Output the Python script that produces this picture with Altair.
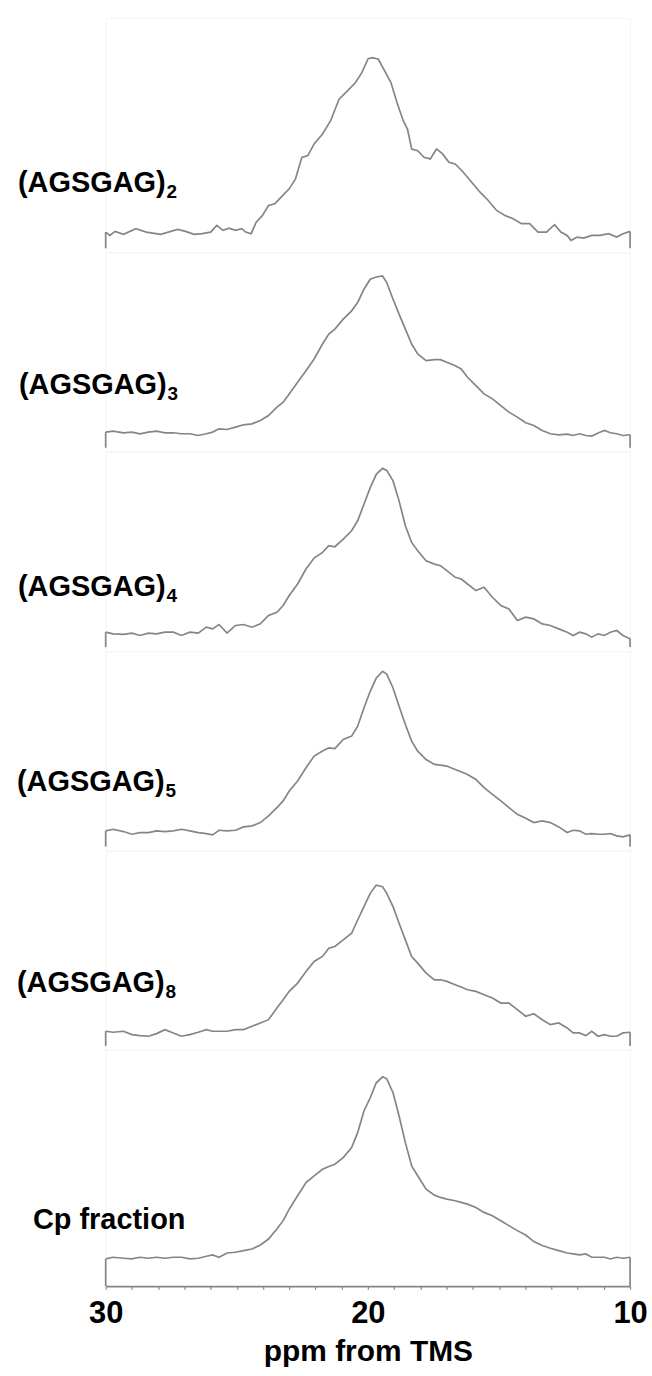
import altair as alt
import pandas as pd

# ---- 13C CP/MAS spectra, Ala Cβ region (intensity in arbitrary units) ----

# (AGSGAG)2 was sampled on its own ppm grid
ppm_agsgag2 = [30.00, 29.84, 29.64, 29.32, 28.85, 28.45, 27.90, 27.26, 26.95, 26.63,
               26.32, 26.00, 25.76, 25.53, 25.29, 25.05, 24.81, 24.66, 24.45, 24.26,
               24.02, 23.79, 23.55, 23.31, 23.00, 22.76, 22.52, 22.29, 22.05, 21.73,
               21.42, 21.10, 20.78, 20.47, 20.23, 19.99, 19.83, 19.60, 19.36, 19.12,
               18.89, 18.65, 18.49, 18.33, 18.10, 17.86, 17.62, 17.38, 17.15, 16.91,
               16.67, 16.36, 16.04, 15.72, 15.41, 15.09, 14.77, 14.46, 14.14, 13.83,
               13.51, 13.19, 12.88, 12.64, 12.40, 12.25, 12.01, 11.77, 11.46, 11.14,
               10.82, 10.51, 10.27, 10.00]
int_agsgag2 = [3.3, 0, 4, 1, 6.7, 3.3, 1, 6, 4, 1,
               1.7, 3.3, 10, 5, 7.3, 5, 6.7, 3.3, 1.7, 13.3,
               20, 30, 31.7, 38.3, 46.7, 56.7, 78.3, 80, 91.7, 101.7,
               115, 136.7, 145, 153.3, 163.3, 177.3, 178.3, 176.7, 165, 153.3,
               133.3, 115, 106.7, 86.7, 85, 78.3, 76.7, 86.7, 81.7, 73.3,
               71.7, 63.3, 53.3, 43.3, 35, 25, 20, 16.7, 11.7, 11.7,
               3.3, 3.3, 10.7, 3.3, 0, -5, -1.7, -2.7, 0, 0,
               1.7, -1.7, 1.7, 4]

# shared ppm grid for the remaining spectra
ppm_grid = [30.00, 29.72, 29.32, 29.00, 28.69, 28.37, 28.06, 27.74, 27.42, 27.11,
            26.79, 26.47, 26.16, 25.92, 25.68, 25.37, 25.05, 24.74, 24.42, 24.10,
            23.79, 23.47, 23.23, 23.00, 22.68, 22.36, 22.05, 21.73, 21.49, 21.26,
            20.94, 20.62, 20.39, 20.15, 19.91, 19.68, 19.44, 19.28, 19.04, 18.81,
            18.57, 18.33, 18.10, 17.78, 17.46, 17.23, 16.99, 16.67, 16.44, 16.20,
            15.88, 15.57, 15.25, 14.93, 14.62, 14.30, 13.98, 13.67, 13.35, 13.04,
            12.72, 12.40, 12.17, 11.93, 11.69, 11.46, 11.22, 10.98, 10.75, 10.51,
            10.27, 10.00]

int_agsgag3 = [1.7, 2.7, 1, 1.7, 0, 1.7, 2.7, 1, 1, 0,
               0, -1.7, 0, 1.7, 5, 4.3, 6.7, 9, 10, 13.3,
               18.3, 26.7, 31.7, 40, 51.7, 63.3, 75, 90, 100, 105,
               115, 123.3, 131.7, 145, 155, 157.3, 158.3, 151.7, 135, 120,
               105, 90, 80, 73.3, 74.3, 74.3, 71.7, 68.3, 65, 56.7,
               48.3, 40, 35, 28.3, 21.7, 16.7, 11, 8.3, 3.3, 0,
               -1, -0.3, -1.7, 0, -1.7, -2.3, 0.7, 3.3, 1, 0,
               -1.7, -1]

int_agsgag4 = [1, -0.7, -1.3, 0, -2.3, 0, -0.7, 1, 1, -2.3,
               1, 0, 6, 4.3, 8.7, 0, 7.7, 8.7, 6, 9.3,
               17.7, 21, 27.7, 37.7, 49.3, 64.3, 75.3, 81, 87.7, 86.7,
               94.3, 102.7, 112.7, 129.3, 146, 159.3, 165.3, 163.3, 152.7, 132.7,
               107.7, 91, 82.7, 72.7, 69.3, 67.7, 62.7, 56, 54.3, 49.3,
               42.7, 46, 36, 27.7, 24.3, 12.7, 16, 14.3, 9.3, 7.7,
               4.3, 1, -2.3, 1, -0.7, -4, -0.7, -2.3, 1, 2.7,
               -2.3, -5.7]

int_agsgag5 = [1.7, 3.3, 1, -1.7, 0, 0, 1.7, 1, 1.7, 3.3,
               1.7, 0, -1, -2.3, 2.3, 1.7, 2.3, 5.7, 6.7, 10,
               16.7, 25, 31.7, 41.7, 51.7, 65, 76.7, 81.7, 85, 84.3,
               93.3, 96.7, 106.7, 125, 141.7, 155, 161.7, 159, 145, 126.7,
               108.3, 91.7, 81.7, 73.3, 68.3, 67.7, 66.7, 63.3, 61, 58.3,
               53.3, 45, 38.3, 31.7, 25, 18.3, 14.3, 10, 11.7, 10,
               5.7, 0, 2.3, 1.7, -1.7, -1, -1.7, -1.7, -1, -3.3,
               -4.3, -2.3]

int_agsgag8 = [1.7, 0.7, 1.7, -1.7, -2.7, -3.3, -0.7, 3.3, 0, -3.3,
               -1.7, 0.7, 3.3, 1.7, 1.7, 1.7, 3.3, 3.3, 6.7, 10,
               13.3, 25, 33.3, 41.7, 50, 61.7, 71.7, 76.7, 85, 86.7,
               93.3, 100, 113.3, 126.7, 140, 148.3, 146.7, 140, 126.7, 110,
               93.3, 76.7, 70, 60, 53.3, 53.3, 51.7, 48.3, 46, 43.3,
               41.7, 38.3, 35, 30, 30, 23.3, 16.7, 19.3, 13.3, 8.3,
               10, 5, 0, 0, -2.7, 1.7, -3.3, -1.7, -3.3, -3.3,
               0, 0.7]

int_cp = [-0.7, 1, 0, -0.7, 1, 0, 1, 0, 1, 1,
          -0.7, 0, 2, 3.3, 1, 5.3, 6, 7.7, 9.3, 13.3,
          19.3, 29.3, 37.7, 49.3, 62.7, 76, 82.7, 89.3, 92, 94.3,
          101, 111, 126, 147.7, 161, 176, 182, 180, 166, 142.7,
          116, 92.7, 82.7, 69.3, 63.3, 61, 59.3, 57.7, 56, 54.3,
          51, 46, 42.7, 37.7, 32.7, 27.7, 23.3, 16.7, 12.7, 10,
          7.7, 5.3, 4.3, 3.3, 4.3, 1, 1, 1, -0.7, 1,
          0, 1]

sample_names = ["(AGSGAG)", "(AGSGAG)", "(AGSGAG)", "(AGSGAG)", "(AGSGAG)", "Cp fraction"]
sample_subscripts = ["2", "3", "4", "5", "8", ""]
spectra_x = [ppm_agsgag2, ppm_grid, ppm_grid, ppm_grid, ppm_grid, ppm_grid]
spectra_y = [int_agsgag2, int_agsgag3, int_agsgag4, int_agsgag5, int_agsgag8, int_cp]

# ---- panel geometry (pixels) and styling ----
PANEL_W = 526
panel_geo = [
    dict(h=235, lo=-17, hi=218, lab_y=174, lab_x=-88),
    dict(h=200, lo=-18, hi=182, lab_y=142, lab_x=-87),
    dict(h=200, lo=-18, hi=182, lab_y=145, lab_x=-88),
    dict(h=200, lo=-18, hi=182, lab_y=140, lab_x=-89),
    dict(h=200, lo=-17, hi=183, lab_y=142, lab_x=-89),
    dict(h=237, lo=-28, hi=209, lab_y=180, lab_x=-73),
]
FONT = "Liberation Sans"
GRAY = "#858585"
LINE_W = 1.7

x_scale = alt.Scale(domain=[10, 30], reverse=True, nice=False, zero=False)

bottom_axis = alt.Axis(
    values=list(range(10, 31)),
    labelExpr="datum.value % 10 === 0 ? datum.label : ''",
    grid=False,
    domainColor=GRAY, domainWidth=LINE_W,
    tickColor=GRAY, tickWidth=1.2, tickSize=3,
    labelFont=FONT, labelFontSize=31, labelFontWeight="bold", labelColor="black",
    labelPadding=9, labelOverlap=False, labelFlush=False,
    title="ppm from TMS",
    titleFont=FONT, titleFontSize=30, titleFontWeight="bold", titleColor="black",
    titlePadding=9,
)


def make_panel(i):
    geo = panel_geo[i]
    xs, ys = spectra_x[i], spectra_y[i]
    last = i == len(panel_geo) - 1
    x_enc = alt.X("ppm:Q", scale=x_scale, axis=bottom_axis if last else None)
    y_scale = alt.Scale(domain=[geo["lo"], geo["hi"]], nice=False, zero=False)
    y_enc = alt.Y("intensity:Q", scale=y_scale, axis=None)

    spec = pd.DataFrame({"ppm": xs, "intensity": ys})
    line = alt.Chart(spec).mark_line(color=GRAY, strokeWidth=LINE_W).encode(x=x_enc, y=y_enc)

    # vertical frame lines dropping from both spectrum ends
    ends = pd.DataFrame({"ppm": [xs[0], xs[-1]], "intensity": [ys[0], ys[-1]]})
    drops = alt.Chart(ends).mark_rule(color=GRAY, strokeWidth=LINE_W).encode(
        x=x_enc, y=y_enc, y2=alt.value(geo["h"] if last else geo["h"] - 4)
    )

    lab_df = pd.DataFrame({"name": [sample_names[i]], "sub": [sample_subscripts[i]]})
    label = alt.Chart(lab_df).mark_text(
        align="left", baseline="alphabetic", font=FONT, fontSize=29,
        fontWeight="bold", color="black",
    ).encode(text="name:N", x=alt.value(geo["lab_x"]), y=alt.value(geo["lab_y"]))

    layers = [line, drops, label]
    if sample_subscripts[i]:
        sub = alt.Chart(lab_df).mark_text(
            align="left", baseline="alphabetic", font=FONT, fontSize=19,
            fontWeight="bold", color="black",
        ).encode(text="sub:N", x=alt.value(geo["lab_x"] + 149), y=alt.value(geo["lab_y"] + 6))
        layers.append(sub)

    return alt.layer(*layers).properties(width=PANEL_W, height=geo["h"])


chart = (
    alt.vconcat(*[make_panel(i) for i in range(len(panel_geo))], spacing=0, bounds="flush")
    .properties(padding={"left": 16, "top": 15, "right": 4, "bottom": 4}, background="white")
    .configure_view(stroke="#f4f4f4", strokeWidth=1)
)

chart.save("out.html", embed_options={"renderer": "svg", "actions": False})
